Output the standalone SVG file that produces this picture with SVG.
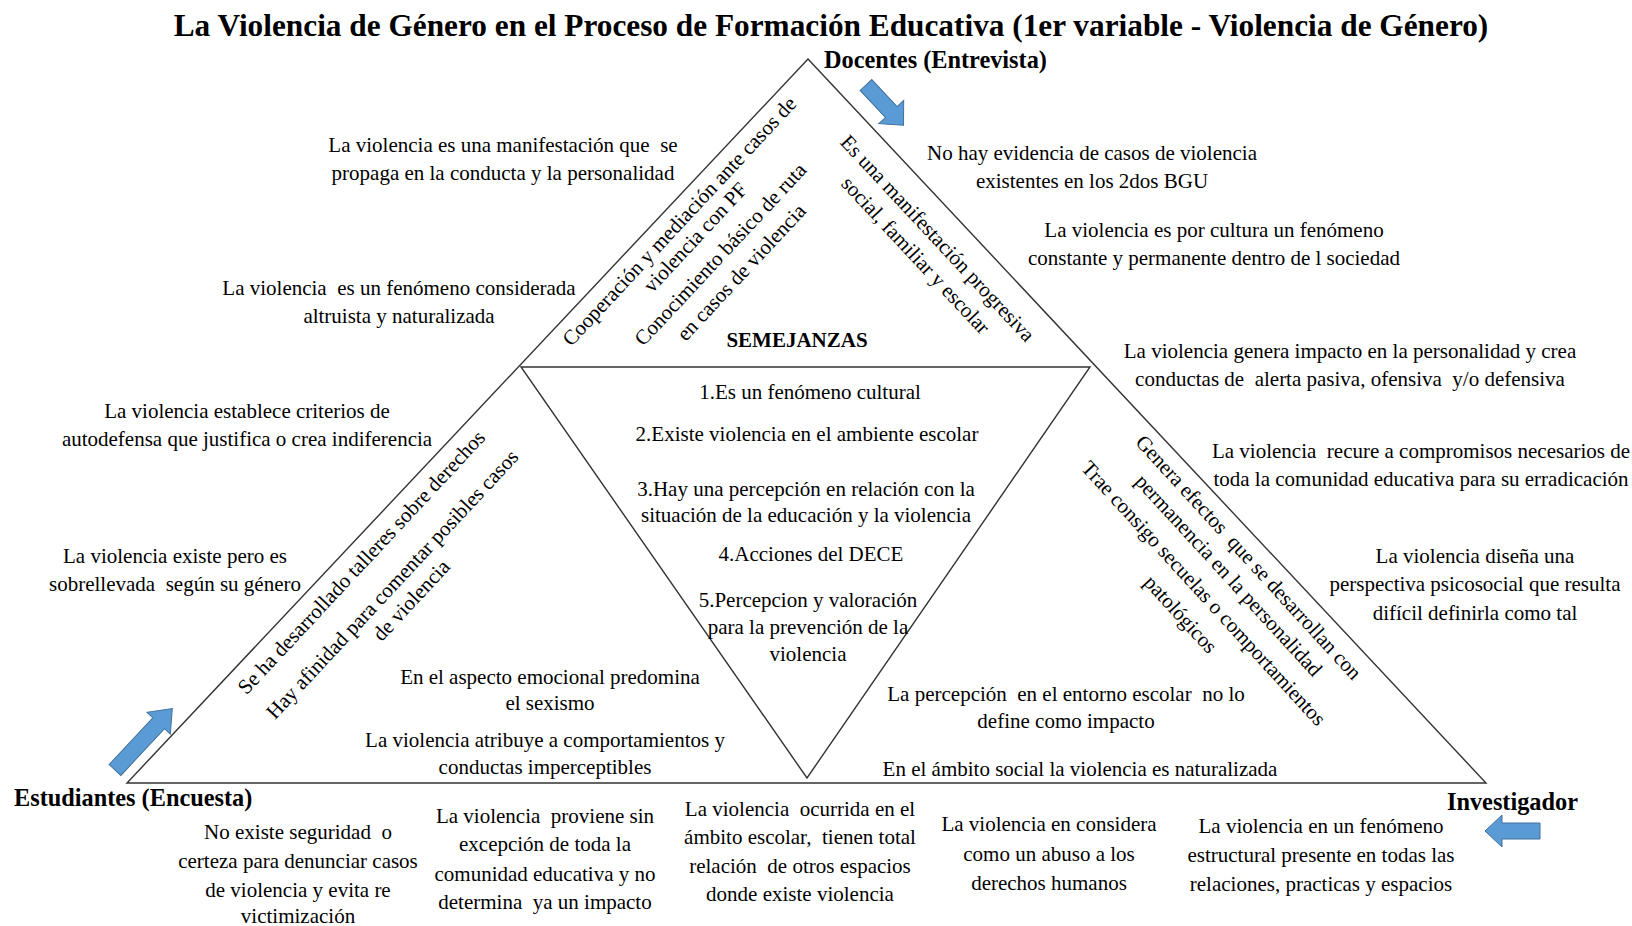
<svg xmlns="http://www.w3.org/2000/svg" width="1632" height="926" viewBox="0 0 1632 926" xml:space="preserve">
<defs>
<style>
text{font-family:"Liberation Serif","Times New Roman",serif;fill:#000;white-space:pre;}
.t{font-size:21px;text-anchor:middle;}
.r{font-size:21px;text-anchor:middle;}
.title{font-size:31.3px;font-weight:bold;text-anchor:middle;}
.lbl{font-size:24.3px;font-weight:bold;}
.sem{font-size:21px;font-weight:bold;text-anchor:middle;}
.tri{fill:none;stroke:#333;stroke-width:1.4;stroke-linejoin:miter;}
.arr{fill:#5B9BD5;stroke:#41719C;stroke-width:1;}
</style>
</defs>
<rect width="1632" height="926" fill="#fff"/>

<g id="title"><text class="title" x="831" y="36">La Violencia de Género en el Proceso de Formación Educativa (1er variable - Violencia de Género)</text></g>

<g id="triangles">
<polygon class="tri" points="808,59 1486,783 127,783"/>
<polygon class="tri" points="521,367 1090,367 807,778"/>
</g>

<g id="connectors">
<path class="arr" d="M0,-8 L37,-8 L37,-17 L55,0 L37,17 L37,8 L0,8 Z" transform="translate(866,85) rotate(47)"/>
<path class="arr" d="M0,-8 L64,-8 L64,-16 L84,0 L64,16 L64,8 L0,8 Z" transform="translate(115,770) rotate(-47)"/>
<path class="arr" d="M0,-8 L38,-8 L38,-16 L55,0 L38,16 L38,8 L0,8 Z" transform="translate(1540,831) rotate(180)"/>
</g>

<g id="docentes"><text class="lbl" x="824" y="68">Docentes (Entrevista)</text></g>
<g id="estudiantes"><text class="lbl" x="14" y="806">Estudiantes (Encuesta)</text></g>
<g id="investigador"><text class="lbl" x="1447" y="810">Investigador</text></g>

<g id="semejanzas">
<text class="sem" x="797" y="347">SEMEJANZAS</text>
<text class="t" x="810" y="399">1.Es un fenómeno cultural</text>
<text class="t" x="807" y="441">2.Existe violencia en el ambiente escolar</text>
<text class="t" x="806" y="496">3.Hay una percepción en relación con la</text>
<text class="t" x="806" y="522">situación de la educación y la violencia</text>
<text class="t" x="811" y="561">4.Acciones del DECE</text>
<text class="t" x="808" y="607">5.Percepcion y valoración</text>
<text class="t" x="808" y="634">para la prevención de la</text>
<text class="t" x="808" y="661">violencia</text>
</g>

<g id="docentes-izq">
<text class="t" x="503" y="152">La violencia es una manifestación que  se</text>
<text class="t" x="503" y="180">propaga en la conducta y la personalidad</text>
<text class="t" x="399" y="295">La violencia  es un fenómeno considerada</text>
<text class="t" x="399" y="323">altruista y naturalizada</text>
</g>

<g id="docentes-der">
<text class="t" x="1092" y="160">No hay evidencia de casos de violencia</text>
<text class="t" x="1092" y="188">existentes en los 2dos BGU</text>
<text class="t" x="1214" y="237">La violencia es por cultura un fenómeno</text>
<text class="t" x="1214" y="265">constante y permanente dentro de l sociedad</text>
</g>

<g id="docentes-rot-izq">
<text class="r" x="679" y="221" dy="0.35em" transform="rotate(-47 679 221)">Cooperación y mediación ante casos de</text>
<text class="r" x="695" y="237" dy="0.35em" transform="rotate(-47 695 237)">violencia con PF</text>
<text class="r" x="720" y="254" dy="0.35em" transform="rotate(-47 720 254)">Conocimiento básico de ruta</text>
<text class="r" x="741" y="272" dy="0.35em" transform="rotate(-47 741 272)">en casos de violencia</text>
</g>

<g id="docentes-rot-der">
<text class="r" x="938" y="238" dy="0.35em" transform="rotate(47 938 238)">Es una manifestación progresiva</text>
<text class="r" x="916" y="255" dy="0.35em" transform="rotate(47 916 255)">social, familiar y escolar</text>
</g>

<g id="investigador-der">
<text class="t" x="1350" y="358">La violencia genera impacto en la personalidad y crea</text>
<text class="t" x="1350" y="386">conductas de  alerta pasiva, ofensiva  y/o defensiva</text>
<text class="t" x="1421" y="458">La violencia  recure a compromisos necesarios de</text>
<text class="t" x="1421" y="486">toda la comunidad educativa para su erradicación</text>
<text class="t" x="1475" y="563">La violencia diseña una</text>
<text class="t" x="1475" y="591">perspectiva psicosocial que resulta</text>
<text class="t" x="1475" y="620">difícil definirla como tal</text>
</g>

<g id="investigador-rot">
<text class="r" x="1249" y="557" dy="0.35em" transform="rotate(47.5 1249 557)">Genera efectos  que se desarrollan con</text>
<text class="r" x="1229" y="575" dy="0.35em" transform="rotate(47.5 1229 575)">permanencia en la personalidad</text>
<text class="r" x="1204" y="593" dy="0.35em" transform="rotate(47.5 1204 593)">Trae consigo secuelas o comportamientos</text>
<text class="r" x="1181" y="614" dy="0.35em" transform="rotate(47.5 1181 614)">patológicos</text>
</g>

<g id="investigador-int">
<text class="t" x="1066" y="701">La percepción  en el entorno escolar  no lo</text>
<text class="t" x="1066" y="728">define como impacto</text>
<text class="t" x="1080" y="776">En el ámbito social la violencia es naturalizada</text>
</g>

<g id="estudiantes-izq">
<text class="t" x="247" y="418">La violencia establece criterios de</text>
<text class="t" x="247" y="446">autodefensa que justifica o crea indiferencia</text>
<text class="t" x="175" y="563">La violencia existe pero es</text>
<text class="t" x="175" y="591">sobrellevada  según su género</text>
</g>

<g id="estudiantes-rot">
<text class="r" x="361" y="562" dy="0.35em" transform="rotate(-47 361 562)">Se ha desarrollado talleres sobre derechos</text>
<text class="r" x="392" y="584" dy="0.35em" transform="rotate(-47 392 584)">Hay afinidad para comentar posibles casos</text>
<text class="r" x="411" y="600" dy="0.35em" transform="rotate(-47 411 600)">de violencia</text>
</g>

<g id="estudiantes-int">
<text class="t" x="550" y="684">En el aspecto emocional predomina</text>
<text class="t" x="550" y="710">el sexismo</text>
<text class="t" x="545" y="747">La violencia atribuye a comportamientos y</text>
<text class="t" x="545" y="774">conductas imperceptibles</text>
</g>

<g id="base-col1">
<text class="t" x="298" y="839">No existe seguridad  o</text>
<text class="t" x="298" y="868">certeza para denunciar casos</text>
<text class="t" x="298" y="897">de violencia y evita re</text>
<text class="t" x="298" y="923">victimización</text>
</g>
<g id="base-col2">
<text class="t" x="545" y="823">La violencia  proviene sin</text>
<text class="t" x="545" y="851">excepción de toda la</text>
<text class="t" x="545" y="881">comunidad educativa y no</text>
<text class="t" x="545" y="909">determina  ya un impacto</text>
</g>
<g id="base-col3">
<text class="t" x="800" y="816">La violencia  ocurrida en el</text>
<text class="t" x="800" y="844">ámbito escolar,  tienen total</text>
<text class="t" x="800" y="873">relación  de otros espacios</text>
<text class="t" x="800" y="901">donde existe violencia</text>
</g>
<g id="base-col4">
<text class="t" x="1049" y="831">La violencia en considera</text>
<text class="t" x="1049" y="861">como un abuso a los</text>
<text class="t" x="1049" y="890">derechos humanos</text>
</g>
<g id="base-col5">
<text class="t" x="1321" y="833">La violencia en un fenómeno</text>
<text class="t" x="1321" y="862">estructural presente en todas las</text>
<text class="t" x="1321" y="891">relaciones, practicas y espacios</text>
</g>
</svg>
